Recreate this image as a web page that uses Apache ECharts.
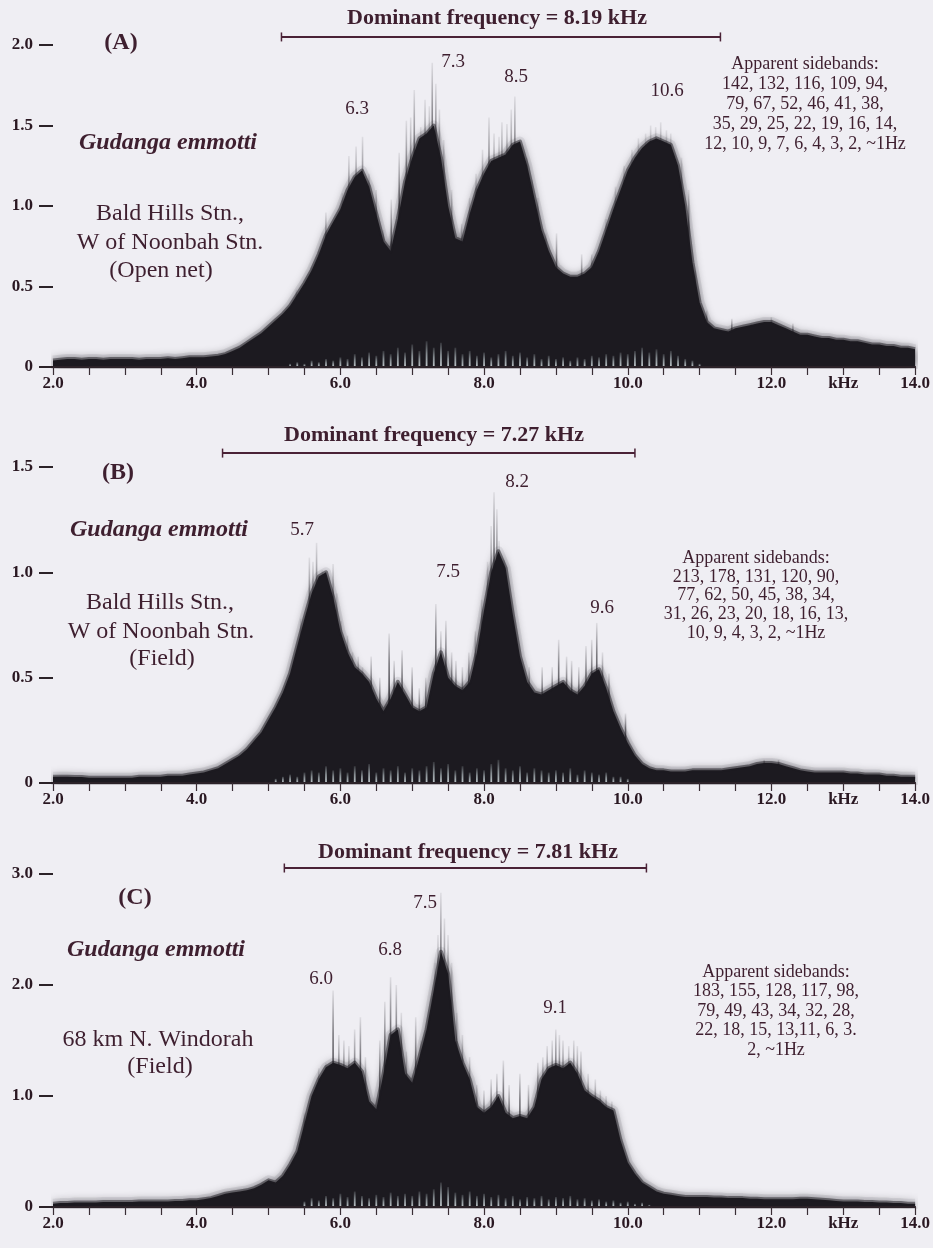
<!DOCTYPE html>
<html><head><meta charset="utf-8">
<script src="https://cdn.jsdelivr.net/npm/echarts@6/dist/echarts.min.js"></script>
<style>html,body{margin:0;padding:0;background:#efeef3}#c{width:933px;height:1248px}</style>
</head><body><div id="c"></div>
<script>
// ---------- DATA ----------
// body amplitude of each spectrum, sampled every 0.1 kHz from 2.0 to 14.0 kHz
const bodyA = [
 0.04,0.045,0.05,0.05,0.045,0.05,0.05,0.045,0.05,0.05,
 0.05,0.05,0.045,0.05,0.05,0.05,0.055,0.05,0.055,0.06,
 0.06,0.06,0.065,0.07,0.08,0.1,0.12,0.15,0.18,0.21,
 0.25,0.29,0.33,0.38,0.45,0.52,0.6,0.7,0.82,0.9,
 0.98,1.1,1.18,1.22,1.12,0.95,0.78,0.72,0.92,1.15,
 1.3,1.42,1.45,1.5,1.3,1.0,0.8,0.78,0.95,1.1,
 1.2,1.28,1.3,1.32,1.38,1.4,1.25,1.05,0.85,0.72,
 0.62,0.58,0.56,0.56,0.58,0.62,0.72,0.85,0.98,1.1,
 1.22,1.3,1.36,1.4,1.42,1.4,1.38,1.25,1.0,0.65,
 0.4,0.28,0.24,0.23,0.22,0.24,0.25,0.26,0.27,0.28,
 0.28,0.26,0.24,0.22,0.2,0.2,0.19,0.18,0.18,0.17,
 0.17,0.16,0.16,0.15,0.14,0.14,0.13,0.13,0.12,0.12,0.11];
const bodyB = [
 0.03,0.03,0.03,0.028,0.028,0.025,0.025,0.025,0.025,0.025,
 0.025,0.025,0.03,0.03,0.03,0.03,0.035,0.035,0.035,0.04,
 0.045,0.05,0.06,0.07,0.09,0.11,0.13,0.16,0.2,0.24,
 0.3,0.36,0.43,0.52,0.65,0.78,0.9,0.98,1.0,0.88,
 0.72,0.62,0.55,0.52,0.48,0.4,0.34,0.4,0.48,0.42,
 0.36,0.34,0.36,0.52,0.62,0.5,0.46,0.44,0.48,0.62,
 0.82,1.0,1.1,1.02,0.8,0.6,0.48,0.43,0.42,0.44,
 0.46,0.48,0.44,0.42,0.46,0.52,0.54,0.45,0.34,0.26,
 0.19,0.13,0.09,0.07,0.06,0.06,0.055,0.055,0.055,0.06,
 0.06,0.06,0.06,0.06,0.065,0.07,0.075,0.08,0.09,0.095,
 0.095,0.09,0.08,0.07,0.06,0.055,0.05,0.05,0.05,0.05,
 0.05,0.045,0.045,0.04,0.04,0.04,0.035,0.035,0.03,0.03,0.03];
const bodyC = [
 0.03,0.035,0.035,0.04,0.04,0.04,0.04,0.045,0.045,0.045,
 0.045,0.045,0.05,0.05,0.05,0.05,0.05,0.055,0.055,0.06,
 0.06,0.07,0.08,0.1,0.12,0.13,0.14,0.15,0.17,0.2,
 0.24,0.22,0.28,0.38,0.5,0.75,1.0,1.15,1.26,1.3,
 1.28,1.25,1.3,1.22,0.95,0.88,1.2,1.55,1.6,1.2,
 1.12,1.35,1.6,1.95,2.3,2.1,1.5,1.3,1.15,0.9,
 0.85,0.9,1.0,0.85,0.8,0.82,0.8,0.9,1.15,1.25,
 1.28,1.25,1.3,1.2,1.05,1.0,0.96,0.9,0.87,0.6,
 0.4,0.3,0.22,0.18,0.14,0.12,0.11,0.1,0.09,0.09,
 0.09,0.09,0.085,0.085,0.08,0.08,0.08,0.075,0.075,0.07,
 0.07,0.07,0.07,0.07,0.075,0.075,0.07,0.065,0.06,0.055,
 0.05,0.05,0.05,0.045,0.045,0.04,0.04,0.035,0.035,0.03,0.03];

// individual tall spectral lines [kHz, amplitude]
const spikesA = [[5.39,0.48],[5.6,0.62],[5.7,0.72],[5.8,0.96],[5.92,0.9],[6.03,1.08],[6.12,1.31],[6.22,1.37],[6.31,1.43],[6.4,1.2],[6.5,1.1],[6.6,0.85],[6.71,1.04],[6.82,1.33],[6.92,1.53],[6.98,1.55],[7.03,1.72],[7.12,1.49],[7.18,1.66],[7.24,1.62],[7.28,1.89],[7.33,1.76],[7.38,1.6],[7.44,1.41],[7.55,1.1],[7.69,0.89],[7.8,1.05],[7.89,1.2],[7.98,1.35],[8.07,1.55],[8.14,1.45],[8.21,1.43],[8.25,1.52],[8.32,1.51],[8.38,1.6],[8.43,1.68],[8.53,1.3],[8.6,1.3],[8.67,1.16],[8.75,1.05],[8.86,0.83],[9.01,0.83],[9.36,0.7],[9.5,0.7],[9.7,0.92],[9.83,1.12],[9.95,1.25],[10.06,1.35],[10.15,1.42],[10.25,1.45],[10.32,1.5],[10.39,1.49],[10.46,1.52],[10.54,1.47],[10.6,1.45],[10.67,1.29],[10.75,1.3],[10.85,1.1],[10.94,0.6],[11.1,0.35],[11.45,0.3],[11.72,0.27],[12.0,0.31],[12.3,0.27]];
const spikesB = [[5.29,0.5],[5.45,0.78],[5.57,1.07],[5.62,1.05],[5.67,1.14],[5.75,1.01],[5.8,1.0],[5.9,1.04],[5.95,0.9],[6.01,0.77],[6.1,0.7],[6.17,0.62],[6.25,0.6],[6.31,0.55],[6.43,0.6],[6.55,0.5],[6.68,0.71],[6.75,0.58],[6.86,0.63],[7.0,0.55],[7.1,0.45],[7.19,0.5],[7.33,0.85],[7.4,0.72],[7.47,0.77],[7.55,0.62],[7.61,0.58],[7.7,0.55],[7.79,0.62],[7.88,0.72],[7.97,0.87],[8.05,1.05],[8.1,1.22],[8.14,1.38],[8.18,1.3],[8.21,1.15],[8.28,1.06],[8.33,0.9],[8.39,0.65],[8.5,0.55],[8.63,0.55],[8.81,0.55],[8.95,0.55],[9.04,0.68],[9.15,0.6],[9.22,0.58],[9.32,0.55],[9.42,0.65],[9.5,0.68],[9.57,0.76],[9.65,0.62],[9.74,0.52],[9.97,0.33],[11.9,0.11],[12.1,0.11]];
const spikesC = [[5.5,0.85],[5.61,1.0],[5.7,1.25],[5.8,1.3],[5.9,1.95],[5.98,1.55],[6.05,1.5],[6.12,1.45],[6.2,1.6],[6.28,1.71],[6.35,1.35],[6.55,1.5],[6.62,1.85],[6.7,2.07],[6.78,2.0],[6.85,1.75],[6.92,1.4],[7.05,1.71],[7.12,1.5],[7.19,1.6],[7.28,1.9],[7.32,2.2],[7.36,2.45],[7.4,2.83],[7.45,2.6],[7.5,2.45],[7.55,2.2],[7.62,1.75],[7.7,1.55],[7.8,1.35],[7.9,1.1],[8.0,1.05],[8.1,1.15],[8.18,1.2],[8.27,1.32],[8.35,1.1],[8.5,1.2],[8.62,1.1],[8.75,1.3],[8.82,1.35],[8.88,1.45],[8.95,1.5],[9.0,1.6],[9.05,1.55],[9.1,1.5],[9.18,1.45],[9.25,1.5],[9.3,1.45],[9.35,1.4],[9.45,1.2],[9.55,1.15],[9.62,1.05],[9.7,1.0],[9.78,0.95]];

// light noise floor near baseline, every 0.1 kHz from its start frequency
const floorAStart = 5.3;
const floorA = [0.02,0.03,0.02,0.04,0.03,0.05,0.04,0.06,0.05,0.08,
 0.06,0.09,0.07,0.1,0.08,0.12,0.09,
 0.14,0.1,0.16,0.12,0.15,0.1,0.12,0.08,0.1,0.07,
 0.09,0.06,0.08,0.1,0.07,0.09,0.06,0.08,0.05,0.07,
 0.05,0.06,0.04,0.06,0.05,0.07,0.06,0.08,0.07,0.09,
 0.08,0.1,0.12,0.09,0.11,0.08,0.1,0.07,0.05,0.04,0.02];
const floorBStart = 5.1;
const floorB = [0.02,0.03,0.04,0.03,0.05,0.06,0.05,0.08,0.06,
 0.07,0.05,0.08,0.06,0.09,0.05,0.07,0.06,0.08,0.05,
 0.07,0.06,0.08,0.1,0.07,0.09,0.06,0.08,0.05,0.07,
 0.06,0.09,0.11,0.07,0.06,0.08,0.05,0.07,0.06,0.05,
 0.06,0.05,0.07,0.04,0.06,0.05,0.04,0.05,0.03,0.03,0.02];
const floorCStart = 5.5;
const floorC = [0.05,0.08,0.06,0.1,0.08,
 0.12,0.09,0.14,0.1,0.08,0.11,0.09,0.13,0.1,0.12,
 0.1,0.14,0.12,0.16,0.22,0.18,0.13,0.11,0.14,0.1,
 0.12,0.09,0.11,0.08,0.1,0.07,0.09,0.08,0.1,0.07,
 0.09,0.08,0.1,0.07,0.08,0.06,0.07,0.05,0.06,0.04,
 0.05,0.03,0.04,0.02];

// dominant-frequency range bars [from kHz, to kHz, height]
const domA = [5.18, 11.29, 2.05];
const domB = [4.36, 10.10, 1.566];
const domC = [5.22, 10.26, 3.054];

// tick labels
const xTickValues = [2, 4, 6, 8, 10, 12, 13, 14];
const xTickTexts  = ['2.0', '4.0', '6.0', '8.0', '10.0', '12.0', 'kHz', '14.0'];

// texts
const titles = ['Dominant frequency = 8.19 kHz', 'Dominant frequency = 7.27 kHz', 'Dominant frequency = 7.81 kHz'];
const panelTags = ['(A)', '(B)', '(C)'];
const species = 'Gudanga emmotti';
const locA = ['Bald Hills Stn.,', 'W of Noonbah Stn.', '(Open net)'];
const locB = ['Bald Hills Stn.,', 'W of Noonbah Stn.', '(Field)'];
const locC = ['68 km N. Windorah', '(Field)'];
const peaksA = ['6.3', '7.3', '8.5', '10.6'];
const peaksB = ['5.7', '7.5', '8.2', '9.6'];
const peaksC = ['6.0', '6.8', '7.5', '9.1'];
const sideA = ['Apparent sidebands:', '142, 132, 116, 109, 94,', '79, 67, 52, 46, 41, 38,', '35, 29, 25, 22, 19, 16, 14,', '12, 10, 9, 7, 6, 4, 3, 2, ~1Hz'];
const sideB = ['Apparent sidebands:', '213, 178, 131, 120, 90,', '77, 62, 50, 45, 38, 34,', '31, 26, 23, 20, 18, 16, 13,', '10, 9, 4, 3, 2, ~1Hz'];
const sideC = ['Apparent sidebands:', '183, 155, 128, 117, 98,', '79, 49, 43, 34, 32, 28,', '22, 18, 15, 13,11, 6, 3.', '2, ~1Hz'];

// ---------- BUILD ----------
const INK = '#1c1a20';
const TXT = '#3e1f2f';
const AX = '#2a1822';
const SERIF = '"Liberation Serif", "DejaVu Serif", serif';

function pairs(start, arr) {
  return arr.map((v, i) => [Math.round((start + i * 0.1) * 100) / 100, v]);
}

const grids = [
  {left: 53, right: 16, top: 45, height: 322},
  {left: 53, right: 16, top: 467, height: 316},
  {left: 53, right: 16, top: 874, height: 333}
];
const yMax = [2, 1.5, 3];
const yInt = [0.5, 0.5, 1];

const xAxes = grids.map((g, i) => ({
  type: 'value', gridIndex: i, min: 2, max: 14, interval: 0.5, z: 10,
  axisLine: {show: true, lineStyle: {color: '#2b2228', width: 2}},
  axisTick: {show: true, length: 8, lineStyle: {color: '#3a2e35', width: 1.2}},
  splitLine: {show: false},
  axisLabel: {
    margin: 8, color: AX, fontFamily: SERIF, fontWeight: 'bold', fontSize: 17,
    formatter: v => { const k = xTickValues.indexOf(Math.round(v * 10) / 10); return k >= 0 ? xTickTexts[k] : ''; }
  }
}));
const yAxes = grids.map((g, i) => ({
  type: 'value', gridIndex: i, min: 0, max: yMax[i], interval: yInt[i],
  axisLine: {show: false},
  axisTick: {show: true, length: 14, lineStyle: {color: '#2b2228', width: 2}},
  splitLine: {show: false},
  axisLabel: {
    margin: 20, color: AX, fontFamily: SERIF, fontWeight: 'bold', fontSize: 17,
    formatter: v => v === 0 ? '0' : v.toFixed(1)
  }
}));

const bodies = [bodyA, bodyB, bodyC];
const spikes = [spikesA, spikesB, spikesC];
const floors = [[floorAStart, floorA], [floorBStart, floorB], [floorCStart, floorC]];
const doms = [domA, domB, domC];

const series = [];
for (let i = 0; i < 3; i++) {
  const bodyData = pairs(2.0, bodies[i]);
  // soft outer haze
  series.push({
    type: 'line', xAxisIndex: i, yAxisIndex: i, z: 1, silent: true,
    data: bodyData, showSymbol: false, symbol: 'none',
    lineStyle: {width: 10, color: 'rgba(28,26,32,0.08)', join: 'round'}
  });
  // solid body with blurred edge
  series.push({
    type: 'line', xAxisIndex: i, yAxisIndex: i, z: 2, silent: true,
    data: bodyData, showSymbol: false, symbol: 'none',
    lineStyle: {width: 4, color: 'rgba(28,26,32,0.5)', join: 'round'},
    areaStyle: {color: INK, opacity: 1, shadowBlur: 10, shadowColor: 'rgba(28,26,32,0.7)'}
  });
  series.push({
    type: 'bar', xAxisIndex: i, yAxisIndex: i, z: 2, barWidth: 1.6, barGap: '-100%', silent: true,
    data: spikes[i],
    itemStyle: {color: new echarts.graphic.LinearGradient(0, 0, 0, 1, [
      {offset: 0, color: 'rgba(28,26,32,0.08)'},
      {offset: 0.2, color: 'rgba(28,26,32,0.55)'},
      {offset: 0.5, color: 'rgba(28,26,32,0.9)'},
      {offset: 1, color: INK}])}
  });
  // light speckled floor at the baseline
  series.push({
    type: 'bar', xAxisIndex: i, yAxisIndex: i, z: 3, barWidth: 1.8, barGap: '-100%', silent: true,
    data: pairs(floors[i][0], floors[i][1]),
    itemStyle: {color: new echarts.graphic.LinearGradient(0, 0, 0, 1, [
      {offset: 0, color: 'rgba(200,214,218,0.15)'},
      {offset: 0.5, color: 'rgba(205,218,222,0.6)'},
      {offset: 1, color: 'rgba(220,230,233,0.85)'}])}
  });
  series.push({
    type: 'line', xAxisIndex: i, yAxisIndex: i, z: 4, clip: false, silent: true,
    data: [[doms[i][0], doms[i][2]], [doms[i][1], doms[i][2]]],
    symbol: 'rect', symbolSize: [1.5, 9], showSymbol: true,
    itemStyle: {color: '#4a2236'},
    lineStyle: {color: '#4a2236', width: 2}
  });
}

function txt(x, y, text, font) {
  return {type: 'text', z: 100, silent: true, style: {
    x: x, y: y, text: text, font: font, fill: TXT, textAlign: 'center', textVerticalAlign: 'middle'
  }};
}
const fTitle = 'bold 22px ' + SERIF;
const fTag = 'bold 24px ' + SERIF;
const fSpec = 'italic bold 24px ' + SERIF;
const fLoc = '24px ' + SERIF;
const fPeak = '19px ' + SERIF;
const fSide = '18px ' + SERIF;

const graphics = [
  txt(497, 18, titles[0], fTitle), txt(434, 435, titles[1], fTitle), txt(468, 852, titles[2], fTitle),
  txt(121, 43, panelTags[0], fTag), txt(118, 473, panelTags[1], fTag), txt(135, 898, panelTags[2], fTag),
  txt(168, 143, species, fSpec), txt(159, 530, species, fSpec), txt(156, 950, species, fSpec),
  txt(170, 214, locA[0], fLoc), txt(170, 243, locA[1], fLoc), txt(161, 271, locA[2], fLoc),
  txt(160, 603, locB[0], fLoc), txt(161, 632, locB[1], fLoc), txt(162, 659, locB[2], fLoc),
  txt(158, 1040, locC[0], fLoc), txt(160, 1067, locC[1], fLoc),
  txt(357, 109, peaksA[0], fPeak), txt(453, 62, peaksA[1], fPeak), txt(516, 77, peaksA[2], fPeak), txt(667, 91, peaksA[3], fPeak),
  txt(302, 530, peaksB[0], fPeak), txt(448, 572, peaksB[1], fPeak), txt(517, 482, peaksB[2], fPeak), txt(602, 608, peaksB[3], fPeak),
  txt(321, 979, peaksC[0], fPeak), txt(390, 950, peaksC[1], fPeak), txt(425, 903, peaksC[2], fPeak), txt(555, 1008, peaksC[3], fPeak)
];
sideA.forEach((s, k) => graphics.push(txt(805, 64 + k * 20, s, fSide)));
sideB.forEach((s, k) => graphics.push(txt(756, 558 + k * 18.8, s, fSide)));
sideC.forEach((s, k) => graphics.push(txt(776, 972 + k * 19.5, s, fSide)));

const chart = echarts.init(document.getElementById('c'), null, {renderer: 'canvas'});
chart.setOption({
  backgroundColor: '#efeef3',
  animation: false,
  grid: grids,
  xAxis: xAxes,
  yAxis: yAxes,
  series: series,
  graphic: graphics
});
</script></body></html>
